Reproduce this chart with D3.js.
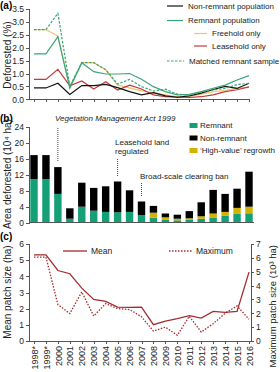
<!DOCTYPE html>
<html>
<head>
<meta charset="utf-8">
<script src="https://cdn.jsdelivr.net/npm/d3@7"></script>
<style>
  body { margin: 0; background: #fff; }
  svg { font-family: 'Liberation Sans', Arial, sans-serif; }
  .axis path, .axis line { stroke: #555; shape-rendering: crispEdges; }
  .axis text { font-size: 8.5px; fill: #222; }
</style>
</head>
<body>
<div id="chart"></div>
<script>
// Data
const years = [1998, 1999, 2000, 2001, 2002, 2003, 2004, 2005, 2006, 2007, 2008, 2009, 2010, 2011, 2012, 2013, 2014, 2015, 2016];
const yearLabels = ['1998*', '1999*', '2000', '2001', '2002', '2003', '2004', '2005', '2006', '2007', '2008', '2009', '2010', '2011', '2012', '2013', '2014', '2015', '2016'];

// (a) deforested %
const nonRemnantPct = [0.44, 0.44, 0.62, 0.19, 0.53, 0.53, 0.58, 0.45, 0.30, 0.17, 0.26, 0.13, 0.08, 0.13, 0.24, 0.38, 0.50, 0.42, 0.62];
const remnantPct = [1.76, 1.76, 2.43, 0.43, 1.42, 1.07, 0.98, 0.98, 1.0, 0.78, 0.49, 0.30, 0.17, 0.19, 0.30, 0.43, 0.55, 0.75, 0.92];
const freeholdPct = [2.7, 2.7, 2.45, 0.5, 1.42, 1.42, 1.15, 0.55, 0.44, 0.33, 0.26, 0.17, 0.10, 0.10, 0.20, 0.30, 0.34, 0.43, 0.46];
const leaseholdPct = [0.77, 0.77, 1.16, 0.52, 0.71, 0.40, 0.68, 0.36, 0.55, 0.40, 0.17, 0.10, 0.08, 0.07, 0.10, 0.17, 0.30, 0.37, 0.48];
const matchedPct = [2.7, 2.7, 3.33, 0.5, 1.42, 1.42, 1.15, 0.59, 0.77, 0.49, 0.32, 0.39, 0.20, 0.16, 0.28, 0.36, 0.42, 0.57, 0.62];

// (b) area deforested (10^4 ha)
const remnantArea = [10.9, 10.9, 7.2, 1.0, 4.0, 3.0, 2.7, 2.6, 2.7, 1.9, 1.25, 0.7, 0.6, 0.7, 1.0, 1.2, 1.7, 2.2, 2.35];
const nonRemnantArea = [6.0, 6.0, 6.7, 2.6, 6.0, 5.7, 6.4, 7.7, 5.4, 3.4, 1.7, 0.95, 1.0, 1.8, 3.5, 5.9, 4.5, 4.8, 8.75];
const regrowthArea = [0, 0, 0, 0, 0, 0, 0, 0, 0, 0, 1.25, 0.65, 0.4, 0.4, 0.6, 1.1, 1.0, 1.5, 1.65];

// (c) patch size
const meanPatch = [5.33, 5.33, 4.36, 4.16, 3.27, 2.57, 2.45, 2.1, 2.08, 2.1, 1.01, 1.23, 1.38, 1.57, 1.42, 1.83, 1.77, 1.83, 4.26];
const maxPatch = [6.06, 6.06, 2.63, 1.98, 3.54, 1.8, 2.7, 2.34, 2.27, 1.75, 0.72, 1.0, 0.41, 1.78, 0.65, 1.25, 2.0, 2.53, 1.57];

const width = 280;
const height = 372;
const leftX = 29;

const svg = d3
  .select('#chart')
  .append('svg')
  .attr('width', width)
  .attr('height', height);

const x = d3.scaleLinear().domain([1998, 2016]).range([34, 249]);

// Panel labels
[['(a)', 9], ['(b)', 122], ['(c)', 240]].forEach((p) => {
  svg
    .append('text')
    .attr('x', 0)
    .attr('y', p[1])
    .style('font-size', '10px')
    .style('font-weight', 'bold')
    .text(p[0]);
});

function yTitle(label, cx, cy) {
  svg
    .append('text')
    .attr('transform', `translate(${cx},${cy}) rotate(-90)`)
    .attr('text-anchor', 'middle')
    .style('font-size', '10px')
    .style('fill', '#222')
    .text(label);
}

// ---------- (a) ----------
const ya = d3.scaleLinear().domain([0, 3.5]).range([99.3, 9]);

svg
  .append('g')
  .attr('class', 'axis')
  .attr('transform', `translate(${leftX},0)`)
  .call(d3.axisLeft(ya).tickValues(d3.range(0, 3.51, 0.5)).tickFormat(d3.format('.1f')).tickSize(3).tickPadding(2));

svg
  .append('g')
  .attr('class', 'axis')
  .attr('transform', `translate(0,${ya(0)})`)
  .call(d3.axisBottom(x).tickValues(years).tickFormat('').tickSize(3).tickSizeOuter(0))
  .select('.domain')
  .attr('d', `M${leftX},0H${x(2016)}`);

yTitle('Deforested (%)', 11, 55);

const lineA = (arr) =>
  d3
    .line()
    .x((d, i) => x(years[i]))
    .y((d) => ya(d))(arr);

const seriesA = [
  { vals: freeholdPct, color: '#f6c26a', dash: null, name: 'Freehold only' },
  { vals: leaseholdPct, color: '#bf3b3b', dash: null, name: 'Leasehold only' },
  { vals: nonRemnantPct, color: '#111', dash: null, name: 'Non-remnant population' },
  { vals: remnantPct, color: '#3aa57a', dash: null, name: 'Remnant population' },
  { vals: matchedPct, color: '#3aa57a', dash: '2.5,1.5', name: 'Matched remnant sample' },
];

seriesA.forEach((s) => {
  svg
    .append('path')
    .attr('d', lineA(s.vals))
    .attr('fill', 'none')
    .attr('stroke', s.color)
    .attr('stroke-width', 1.2)
    .attr('stroke-dasharray', s.dash);
});

// legend (a)
const legA = [
  { s: seriesA[2], x1: 167, x2: 183, y: 6 },
  { s: seriesA[3], x1: 167, x2: 183, y: 20.5 },
  { s: seriesA[0], x1: 194, x2: 207, y: 33.5 },
  { s: seriesA[1], x1: 194, x2: 207, y: 46 },
  { s: seriesA[4], x1: 167, x2: 184, y: 61 },
];
legA.forEach((l) => {
  svg
    .append('line')
    .attr('x1', l.x1)
    .attr('x2', l.x2)
    .attr('y1', l.y)
    .attr('y2', l.y)
    .attr('stroke', l.s.color)
    .attr('stroke-width', 1.2)
    .attr('stroke-dasharray', l.s.dash);
  svg
    .append('text')
    .attr('x', l.x2 + 5)
    .attr('y', l.y)
    .attr('dy', '0.35em')
    .style('font-size', '8px')
    .style('fill', '#222')
    .text(l.s.name);
});

// ---------- (b) ----------
const yb = d3.scaleLinear().domain([0, 24]).range([222.7, 126.7]);

svg
  .append('g')
  .attr('class', 'axis')
  .attr('transform', `translate(${leftX},0)`)
  .call(d3.axisLeft(yb).tickValues(d3.range(0, 25, 4)).tickSize(3).tickPadding(2));

yTitle('Area deforested (10\u2074 ha)', 11, 174);

const barData = years.map((yr, i) => ({
  year: yr,
  remnant: remnantArea[i],
  regrowth: regrowthArea[i],
  nonRemnant: nonRemnantArea[i],
}));
const stack = d3.stack().keys(['remnant', 'regrowth', 'nonRemnant'])(barData);
const barColors = { remnant: '#14a077', regrowth: '#d4b000', nonRemnant: '#000' };
const barW = 7.4;

stack.forEach((layer) => {
  svg
    .append('g')
    .selectAll('rect')
    .data(layer)
    .enter()
    .append('rect')
    .attr('x', (d) => x(d.data.year) - barW / 2)
    .attr('y', (d) => yb(d[1]))
    .attr('width', barW)
    .attr('height', (d) => yb(d[0]) - yb(d[1]))
    .attr('fill', barColors[layer.key]);
});

svg
  .append('line')
  .attr('x1', leftX)
  .attr('x2', 254)
  .attr('y1', yb(0))
  .attr('y2', yb(0))
  .attr('stroke', '#555')
  .style('shape-rendering', 'crispEdges');

// annotations
const notes = [
  { year: 2000, y1: 128, y2: 161, lines: ['Vegetation Management Act 1999'], tx: 55, ty: 121, italic: true },
  { year: 2005, y1: 159, y2: 176, lines: ['Leasehold land', 'regulated'], tx: 115, ty: 145, italic: false },
  { year: 2007, y1: 183, y2: 196, lines: ['Broad-scale clearing ban'], tx: 140, ty: 179, italic: false },
];
notes.forEach((n) => {
  svg
    .append('line')
    .attr('x1', x(n.year))
    .attr('x2', x(n.year))
    .attr('y1', n.y1)
    .attr('y2', n.y2)
    .attr('stroke', '#444')
    .attr('stroke-width', 1)
    .attr('stroke-dasharray', '1,1');
  n.lines.forEach((t, j) => {
    svg
      .append('text')
      .attr('x', n.tx)
      .attr('y', n.ty + j * 9)
      .style('font-size', '8px')
      .style('font-style', n.italic ? 'italic' : 'normal')
      .style('fill', '#222')
      .text(t);
  });
});

// legend (b)
const legB = [
  { key: 'remnant', name: 'Remnant', y: 125.5 },
  { key: 'nonRemnant', name: 'Non-remnant', y: 138 },
  { key: 'regrowth', name: '\u2018High-value\u2019 regrowth', y: 150.5 },
];
legB.forEach((l) => {
  svg
    .append('rect')
    .attr('x', 189.5)
    .attr('y', l.y - 2.5)
    .attr('width', 8)
    .attr('height', 5)
    .attr('fill', barColors[l.key]);
  svg
    .append('text')
    .attr('x', 200)
    .attr('y', l.y)
    .attr('dy', '0.35em')
    .style('font-size', '8px')
    .style('fill', '#222')
    .text(l.name);
});

// ---------- (c) ----------
const ycL = d3.scaleLinear().domain([0, 6]).range([341, 244]);
const ycR = d3.scaleLinear().domain([0, 7]).range([341, 244]);
const rightX = 251;

svg
  .append('g')
  .attr('class', 'axis')
  .attr('transform', `translate(${leftX},0)`)
  .call(d3.axisLeft(ycL).ticks(6).tickSize(3).tickPadding(2));

svg
  .append('g')
  .attr('class', 'axis')
  .attr('transform', `translate(${rightX},0)`)
  .call(d3.axisRight(ycR).ticks(7).tickSize(3).tickPadding(2));

const xAxisC = svg
  .append('g')
  .attr('class', 'axis')
  .attr('transform', `translate(0,${ycL(0)})`)
  .call(
    d3
      .axisBottom(x)
      .tickValues(years)
      .tickFormat((d, i) => yearLabels[i])
      .tickSize(3)
      .tickSizeOuter(0),
  );
xAxisC.select('.domain').attr('d', `M${leftX},0H${rightX}`);
xAxisC
  .selectAll('text')
  .attr('transform', 'rotate(-90)')
  .attr('text-anchor', 'end')
  .attr('x', -5)
  .attr('y', 0)
  .attr('dy', '0.35em')
  .style('font-size', '9px');

yTitle('Mean patch size (ha)', 11, 292);

svg
  .append('text')
  .attr('transform', `translate(276,245) rotate(-90)`)
  .attr('text-anchor', 'end')
  .style('font-size', '9.5px')
  .style('fill', '#222')
  .text('Maximum patch size (10\u00b3 ha)');

const patchColor = '#a52c2c';

svg
  .append('path')
  .attr(
    'd',
    d3
      .line()
      .x((d, i) => x(years[i]))
      .y((d) => ycL(d))(meanPatch),
  )
  .attr('fill', 'none')
  .attr('stroke', patchColor)
  .attr('stroke-width', 1.3);

svg
  .append('path')
  .attr(
    'd',
    d3
      .line()
      .x((d, i) => x(years[i]))
      .y((d) => ycR(d))(maxPatch),
  )
  .attr('fill', 'none')
  .attr('stroke', patchColor)
  .attr('stroke-width', 1.3)
  .attr('stroke-dasharray', '1.5,1.5');

// legend (c)
[
  { name: 'Mean', x1: 63, x2: 87, dash: null },
  { name: 'Maximum', x1: 169, x2: 192, dash: '1.5,1.5' },
].forEach((l) => {
  svg
    .append('line')
    .attr('x1', l.x1)
    .attr('x2', l.x2)
    .attr('y1', 251)
    .attr('y2', 251)
    .attr('stroke', patchColor)
    .attr('stroke-width', 1.3)
    .attr('stroke-dasharray', l.dash);
  svg
    .append('text')
    .attr('x', l.x2 + 4)
    .attr('y', 251)
    .attr('dy', '0.35em')
    .style('font-size', '8.5px')
    .style('fill', '#222')
    .text(l.name);
});
</script>
</body>
</html>
